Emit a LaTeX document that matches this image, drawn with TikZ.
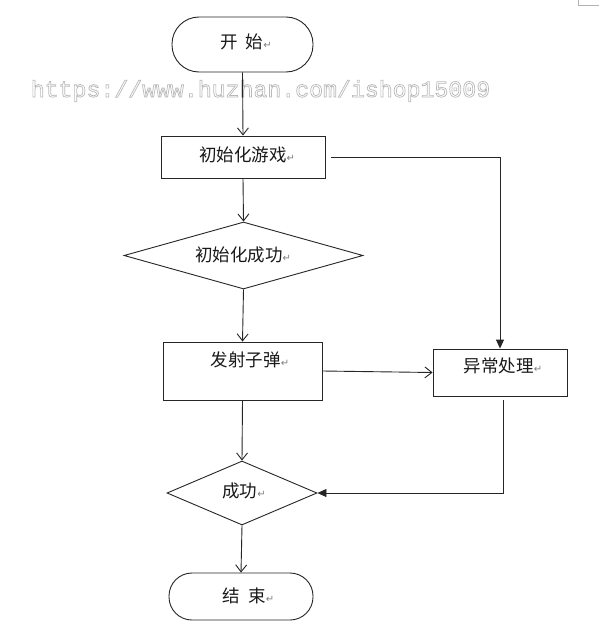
\documentclass[tikz,border=0pt]{standalone}
\usepackage{fontspec}
\newfontfamily\cjk{Noto Sans CJK SC}
\newfontfamily\symf{DejaVu Sans}
\newfontfamily\wmfont{Liberation Mono}
\usetikzlibrary{shapes.geometric,arrows.meta}
\newcommand{\retmark}{{\symf\fontsize{10}{10}\selectfont\color{gray}\char"21B5}}
\newcommand{\outlinetext}[1]{\special{pdf:literal direct 1 Tr 0.7 w}#1\special{pdf:literal direct 0 Tr}}
\begin{document}
\begin{tikzpicture}[x=1pt,y=-1pt,
  shp/.style={draw=black!85, line width=0.9pt, inner sep=0pt},
  procbox/.style={shp, rectangle},
  decis/.style={shp, diamond},
  txt/.style={inner sep=0pt, font=\cjk\fontsize{17.5}{17.5}\selectfont, text=black!90},
  conn/.style={draw=black!85, line width=0.9pt},
  openarr/.style={conn, -{Straight Barb[length=7pt,width=11pt]}},
  fillarr/.style={conn, -{Triangle[length=9pt,width=8pt]}},
  wm/.style={inner sep=0pt, font=\wmfont\fontsize{23.2}{23.2}\selectfont, text=gray!55}
]
\useasboundingbox (0,0) rectangle (599,629);
\fill[white] (0,0) rectangle (599,629);

% shapes
\node[shp, rectangle, rounded corners=27pt, minimum width=141pt, minimum height=55pt] (start) at (242.5,44.5) {};
\node[procbox, minimum width=164pt, minimum height=42pt] (init) at (243,157) {};
\node[decis, minimum width=239pt, minimum height=67pt] (dec1) at (243.5,255.5) {};
\node[procbox, minimum width=159pt, minimum height=58pt] (fire) at (242.5,371) {};
\node[procbox, minimum width=134pt, minimum height=47pt] (exc) at (500,372.5) {};
\node[decis, minimum width=150pt, minimum height=64pt] (succ) at (242,493) {};
\node[shp, rectangle, rounded corners=23pt, minimum width=144pt, minimum height=47pt] (stop) at (241,596.5) {};

% texts
\node[txt] (tstart) at (246,42) {开\hspace{8pt}始\retmark};
\node[txt] (tinit) at (247,155) {初始化游戏\retmark};
\node[txt] (tdec1) at (243,255) {初始化成功\retmark};
\node[txt] (tfire) at (250,360) {发射子弹\retmark};
\node[txt] (texc) at (503,366) {异常处理\retmark};
\node[txt] (tsucc) at (244,491) {成功\retmark};
\node[txt] (tstop) at (248.5,596) {结\hspace{8pt}束\retmark};

% watermark
\node[wm] (wmark) at (260.5,91) {\outlinetext{https://www.huzhan.com/ishop15009}};

% connectors
\draw[openarr] (start.south) -- (init.north);
\draw[openarr] (init.south) -- (dec1.north);
\draw[openarr] (dec1.south) -- (fire.north);
\draw[openarr] (fire.east) -- (exc.west);
\draw[openarr] (fire.south) -- (succ.north);
\draw[openarr] (succ.south) -- (stop.north);
\coordinate (initout) at ([xshift=6pt]init.east);
\draw[fillarr] (initout) -| (exc.north);
\coordinate (excout) at ([xshift=3pt,yshift=-4pt]exc.south);
\draw[fillarr] (excout) |- (succ.east);

% page corner mark
\draw[gray!60, line width=0.6pt] (578,0) -- (578,5) -- (599,5);
\end{tikzpicture}
\end{document}
